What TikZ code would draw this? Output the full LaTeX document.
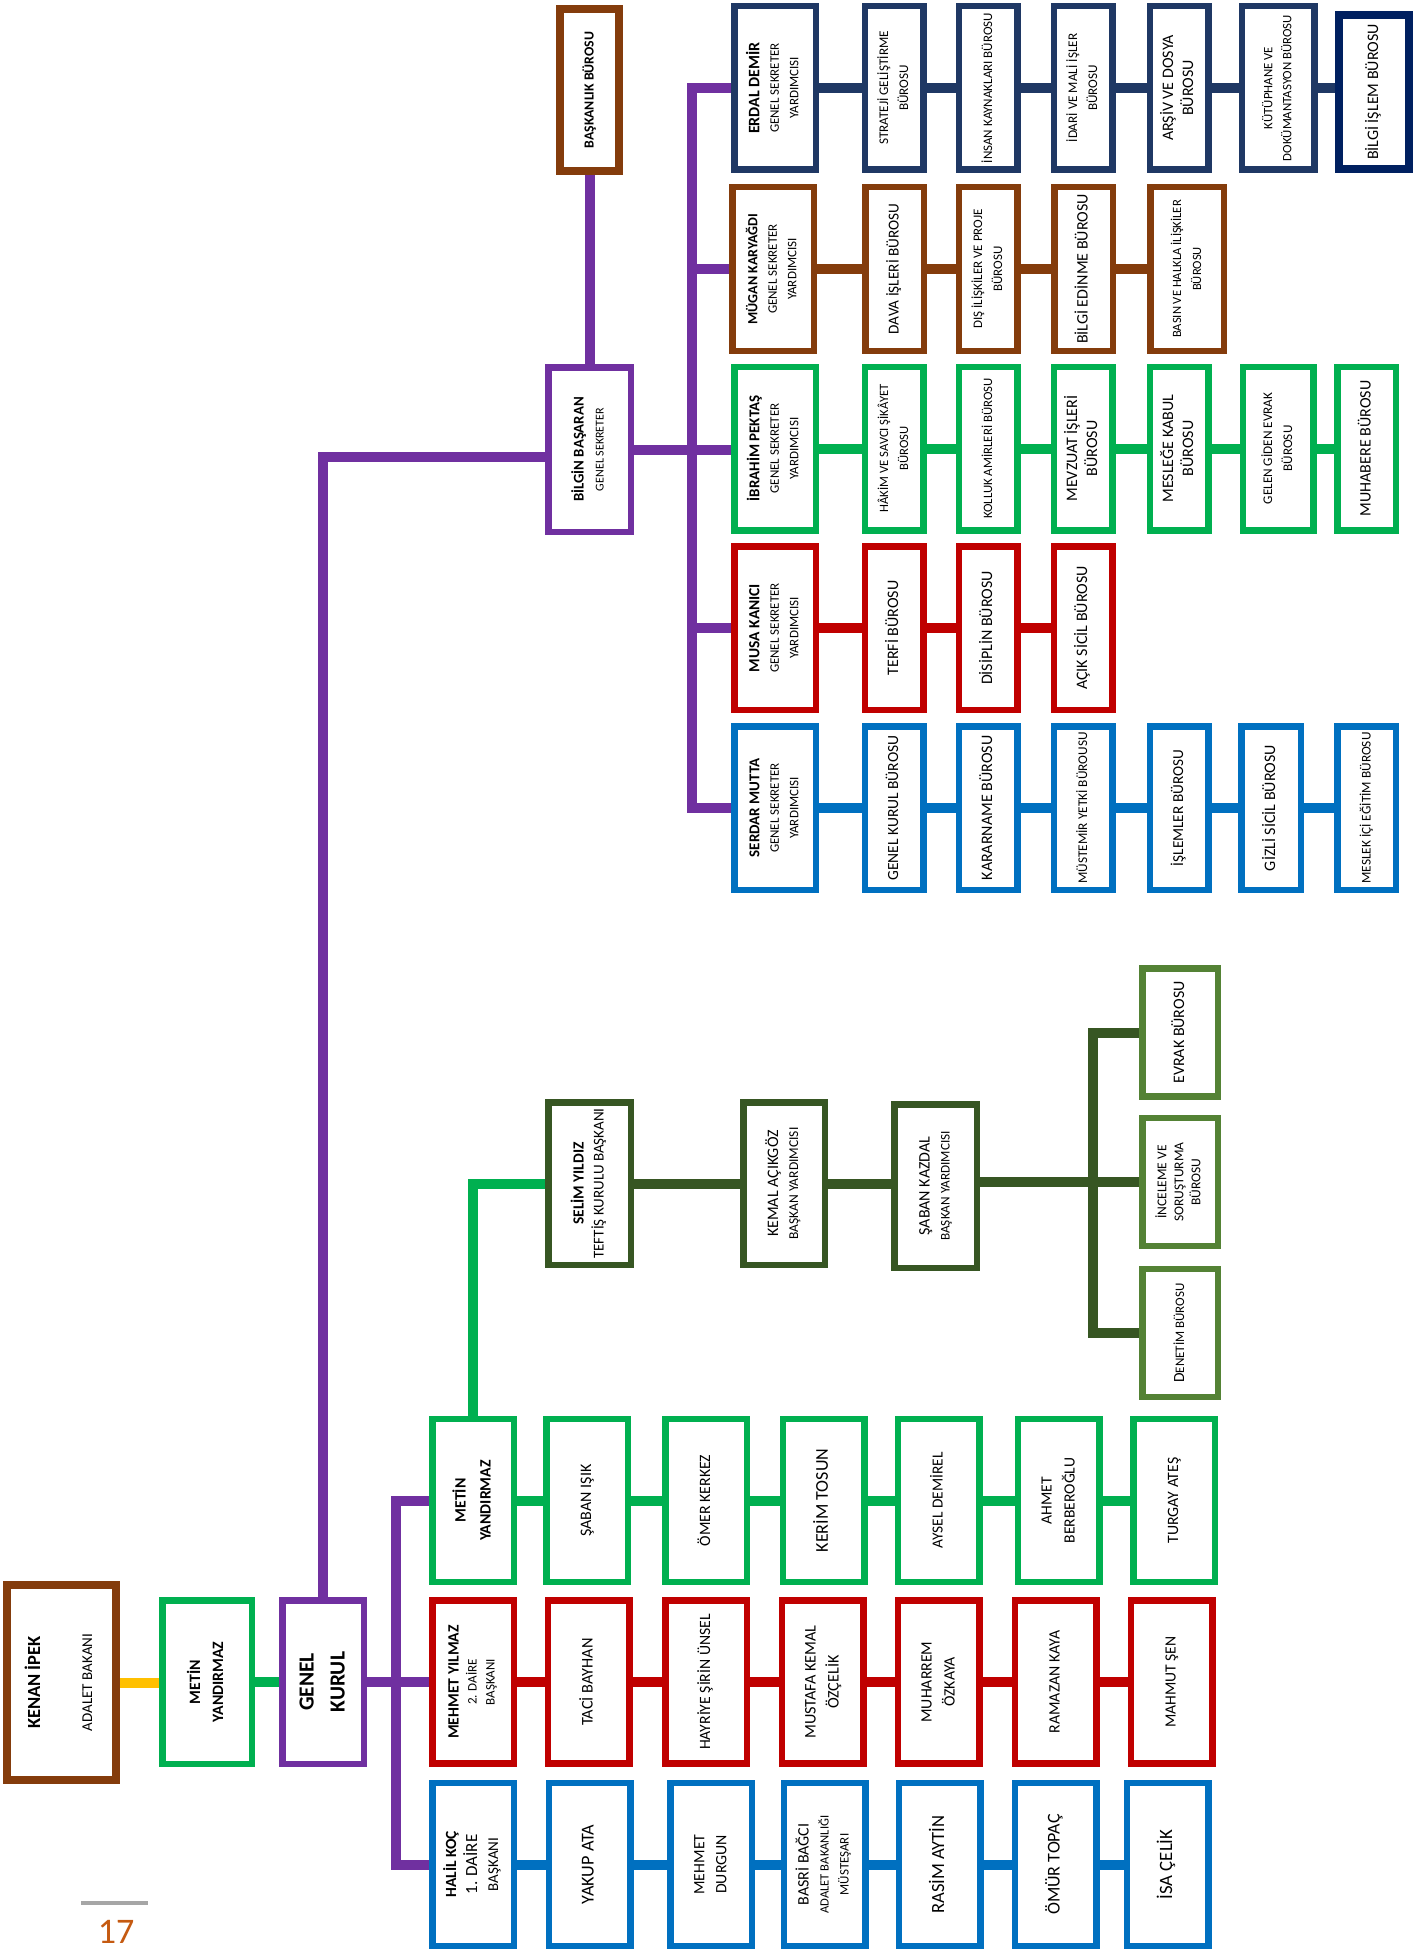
\documentclass[tikz,border=0pt]{standalone}
\usepackage{fontspec}
\setmainfont{Carlito}
\usepackage{graphicx}
\definecolor{cNavy}{HTML}{1F3864}
\definecolor{cNavyD}{HTML}{002060}
\definecolor{cBrown}{HTML}{843C0C}
\definecolor{cGreen}{HTML}{00B050}
\definecolor{cRed}{HTML}{C00000}
\definecolor{cBlue}{HTML}{0070C0}
\definecolor{cPurple}{HTML}{7030A0}
\definecolor{cDkGreen}{HTML}{375623}
\definecolor{cLtGreen}{HTML}{548235}
\definecolor{cYellow}{HTML}{FFC000}
\definecolor{cGray}{HTML}{A6A6A6}
\definecolor{cOrange}{HTML}{C55A11}
\newcommand{\rotlbl}[3][20]{\rotatebox{90}{\fontsize{#2}{#1}\selectfont\begin{tabular}{@{}c@{}}#3\end{tabular}}}
\newcommand{\bn}[2]{{\fontsize{#1}{20}\selectfont\bfseries #2}}
\newcommand{\fsz}[2]{{\fontsize{#1}{20}\selectfont #2}}
\tikzset{
  bx/.style={draw=#1, line width=6.5pt, fill=white, inner sep=0pt, outer sep=3.25pt, rectangle},
  thickbx/.style={draw=#1, line width=8pt, fill=white, inner sep=0pt, outer sep=4pt, rectangle},
  cn/.style={draw=#1, line width=10pt, line join=miter},
  gsy/.style={minimum width=81.5pt, minimum height=163.5pt},
  bur/.style={minimum width=58.5pt, minimum height=163.5pt},
  pb/.style={minimum width=81.5pt, minimum height=163pt},
  tfb/.style={minimum width=75.5pt, minimum height=128pt},
}
\begin{document}
\begin{tikzpicture}[x=1pt,y=-1pt]
\fill[white] (0,0) rectangle (1427,1950);
\useasboundingbox (0,0) rectangle (1427,1950);
\coordinate (bus) at (692,0);
\coordinate (bus2) at (396,0);
\coordinate (tbus) at (1093,0);

% ---------- Genel Sekreterlik ----------
\node[thickbx=cBrown, minimum width=59pt, minimum height=162pt] (baskan) at (589.5,90) {\rotlbl{13.8}{\bfseries BAŞKANLIK BÜROSU}};
\node[bx=cPurple, minimum width=82.5pt, minimum height=164.5pt] (bilgin) at (589.5,449.5) {\rotlbl{12}{\bn{14.8}{BİLGİN BAŞARAN}\\GENEL SEKRETER}};

% row 1 navy
\node[bx=cNavy, gsy] (erdal) at (775,88) {\rotlbl[19.5]{13}{\bn{16}{ERDAL DEMİR}\\GENEL SEKRETER\\YARDIMCISI}};
\node[bx=cNavy, bur] (strateji) at (894,88) {\rotlbl{13.2}{STRATEJİ GELİŞTİRME\\BÜROSU}};
\node[bx=cNavy, bur] (insan) at (988,88) {\rotlbl{13}{İNSAN KAYNAKLARI BÜROSU}};
\node[bx=cNavy, bur] (idari) at (1083,88) {\rotlbl{13.2}{İDARİ VE MALİ İŞLER\\BÜROSU}};
\node[bx=cNavy, bur] (arsiv) at (1179,88) {\rotlbl{16}{ARŞİV VE DOSYA\\BÜROSU}};
\node[bx=cNavy, bur, minimum width=72.5pt] (kutup) at (1278,88) {\rotlbl[19]{12.8}{KÜTÜPHANE VE\\DOKÜMANTASYON BÜROSU}};
\node[thickbx=cNavyD, minimum width=70pt, minimum height=154pt] (bilgiislem) at (1374,92) {\rotlbl{16}{BİLGİ İŞLEM BÜROSU}};

% row 2 brown
\node[bx=cBrown, gsy] (mugan) at (773,269) {\rotlbl[19.5]{13}{\bn{14}{MÜGAN KARYAĞDI}\\GENEL SEKRETER\\YARDIMCISI}};
\node[bx=cBrown, bur] (dava) at (894.5,269) {\rotlbl{15.2}{DAVA İŞLERİ BÜROSU}};
\node[bx=cBrown, bur] (dis) at (988,269) {\rotlbl{13}{DIŞ İLİŞKİLER VE PROJE\\BÜROSU}};
\node[bx=cBrown, bur] (edinme) at (1083.5,269) {\rotlbl{16}{BİLGİ EDİNME BÜROSU}};
\node[bx=cBrown, bur, minimum width=73.5pt] (basin) at (1187,269) {\rotlbl{12.6}{BASIN VE HALKLA İLİŞKİLER\\BÜROSU}};

% row 3 green
\node[bx=cGreen, gsy] (ibrahim) at (775,448.5) {\rotlbl[19.5]{13}{\bn{15}{İBRAHİM PEKTAŞ}\\GENEL SEKRETER\\YARDIMCISI}};
\node[bx=cGreen, bur] (hakim) at (894,448.5) {\rotlbl{12.7}{HÂKİM VE SAVCI ŞİKÂYET\\BÜROSU}};
\node[bx=cGreen, bur] (kolluk) at (988,448.5) {\rotlbl{12.8}{KOLLUK AMİRLERİ BÜROSU}};
\node[bx=cGreen, bur] (mevzuat) at (1083,448.5) {\rotlbl{16}{MEVZUAT İŞLERİ\\BÜROSU}};
\node[bx=cGreen, bur] (meslege) at (1179,448.5) {\rotlbl{16}{MESLEĞE KABUL\\BÜROSU}};
\node[bx=cGreen, bur, minimum width=70.5pt] (gelen) at (1278,448.5) {\rotlbl{13.2}{GELEN GİDEN EVRAK\\BÜROSU}};
\node[bx=cGreen, bur] (muhabere) at (1366.5,448.5) {\rotlbl{16}{MUHABERE BÜROSU}};

% row 4 red
\node[bx=cRed, gsy] (musa) at (775,628) {\rotlbl[19.5]{13}{\bn{15.5}{MUSA KANICI}\\GENEL SEKRETER\\YARDIMCISI}};
\node[bx=cRed, bur] (terfi) at (894,628) {\rotlbl{16}{TERFİ BÜROSU}};
\node[bx=cRed, bur] (disiplin) at (988,628) {\rotlbl{16}{DİSİPLİN BÜROSU}};
\node[bx=cRed, bur] (acik) at (1083,628) {\rotlbl{16}{AÇIK SİCİL BÜROSU}};

% row 5 blue
\node[bx=cBlue, gsy] (serdar) at (775,808) {\rotlbl[19.5]{13}{\bn{15}{SERDAR MUTTA}\\GENEL SEKRETER\\YARDIMCISI}};
\node[bx=cBlue, bur] (gkb) at (894,808) {\rotlbl{15.5}{GENEL KURUL BÜROSU}};
\node[bx=cBlue, bur] (kararname) at (988,808) {\rotlbl{16}{KARARNAME BÜROSU}};
\node[bx=cBlue, bur] (mustemir) at (1083,808) {\rotlbl{13.3}{MÜSTEMİR YETKİ BÜROUSU}};
\node[bx=cBlue, bur] (islemler) at (1179,808) {\rotlbl{15.2}{İŞLEMLER BÜROSU}};
\node[bx=cBlue, bur, minimum width=59.5pt] (gizli) at (1271,808) {\rotlbl{16}{GİZLİ SİCİL BÜROSU}};
\node[bx=cBlue, bur] (meslekici) at (1366.5,808) {\rotlbl{13.3}{MESLEK İÇİ EĞİTİM BÜROSU}};

% ---------- Teftiş Kurulu ----------
\node[bx=cDkGreen, minimum width=82.5pt, minimum height=162.5pt] (selim) at (589.5,1183.5) {\rotlbl{15}{\bn{15.5}{SELİM YILDIZ}\\TEFTİŞ KURULU BAŞKANI}};
\node[bx=cDkGreen, minimum width=81.5pt, minimum height=162.5pt] (kemal) at (784,1183.5) {\rotlbl{13.5}{\fsz{16}{KEMAL AÇIKGÖZ}\\BAŞKAN YARDIMCISI}};
\node[bx=cDkGreen, minimum width=82.5pt, minimum height=163.5pt] (kazdal) at (935.5,1186) {\rotlbl{13.2}{\fsz{16}{ŞABAN KAZDAL}\\BAŞKAN YARDIMCISI}};
\node[bx=cLtGreen, tfb] (evrak) at (1180,1032.5) {\rotlbl{16}{EVRAK BÜROSU}};
\node[bx=cLtGreen, tfb] (inceleme) at (1180,1182) {\rotlbl[17]{13.5}{İNCELEME VE\\SORUŞTURMA\\BÜROSU}};
\node[bx=cLtGreen, tfb] (denetim) at (1180,1333) {\rotlbl{13}{\fsz{15.5}{D}ENETİM BÜROSU}};

% ---------- bottom ----------
\node[thickbx=cBrown, minimum width=109pt, minimum height=195pt] (kenan) at (61.5,1682.5) {\rotlbl{15}{\bn{18.5}{KENAN İPEK}\\[32pt]ADALET BAKANI}};
\node[bx=cGreen, minimum width=89.5pt, minimum height=163.5pt] (metin1) at (207,1682) {\rotlbl[23]{15.8}{\bfseries METİN\\\bfseries YANDIRMAZ}};
\node[bx=cPurple, gsy] (genel) at (323,1682) {\rotlbl[31]{21.5}{\bfseries GENEL\\\bfseries KURUL}};

\node[bx=cGreen, pb] (metin2) at (473,1500.5) {\rotlbl[25]{15.8}{\bfseries METİN\\\bfseries YANDIRMAZ}};
\node[bx=cRed, pb] (mehmet) at (473,1682) {\rotlbl[18]{13}{\bn{15.7}{MEHMET YILMAZ}\\2. DAİRE\\BAŞKANI}};
\node[bx=cBlue, pb] (halil) at (473,1864.5) {\rotlbl[21]{15}{\bn{15.5}{HALİL KOÇ}\\\fsz{17}{1. DAİRE}\\BAŞKANI}};

\node[bx=cGreen, pb] (saban) at (587,1500.5) {\rotlbl{16}{ŞABAN IŞIK}};
\node[bx=cGreen, pb] (omer) at (706,1500.5) {\rotlbl{15.8}{ÖMER KERKEZ}};
\node[bx=cGreen, pb] (kerim) at (823.5,1500.5) {\rotlbl{18}{KERİM TOSUN}};
\node[bx=cGreen, pb] (aysel) at (938.5,1500.5) {\rotlbl{15.4}{AYSEL DEMİREL}};
\node[bx=cGreen, pb] (ahmet) at (1058.5,1500.5) {\rotlbl[23]{15.6}{AHMET\\BERBEROĞLU}};
\node[bx=cGreen, pb] (turgay) at (1174,1500.5) {\rotlbl{15.8}{TURGAY ATEŞ}};

\node[bx=cRed, pb] (taci) at (588.5,1682) {\rotlbl{16.3}{TACİ BAYHAN}};
\node[bx=cRed, pb] (hayriye) at (706,1682) {\rotlbl{15.7}{HAYRİYE ŞİRİN ÜNSEL}};
\node[bx=cRed, pb] (mustafa) at (822.5,1682) {\rotlbl[23]{16.2}{MUSTAFA KEMAL\\ÖZÇELİK}};
\node[bx=cRed, pb] (muharrem) at (938.5,1682) {\rotlbl[23]{15.8}{MUHARREM\\ÖZKAYA}};
\node[bx=cRed, pb] (ramazan) at (1055.5,1682) {\rotlbl{15.8}{RAMAZAN KAYA}};
\node[bx=cRed, pb] (mahmut) at (1171.5,1682) {\rotlbl{15.6}{MAHMUT ŞEN}};

\node[bx=cBlue, pb] (yakup) at (589.5,1864.5) {\rotlbl{18.2}{YAKUP ATA}};
\node[bx=cBlue, pb] (mdurgun) at (711,1864.5) {\rotlbl[22]{15.8}{MEHMET\\DURGUN}};
\node[bx=cBlue, pb] (basri) at (824.5,1864.5) {\rotlbl{12.6}{\fsz{16}{BASRİ BAĞCI}\\ADALET BAKANLIĞI\\\fsz{13}{MÜSTEŞARI}}};
\node[bx=cBlue, pb] (rasim) at (939.5,1864.5) {\rotlbl{18.6}{RASİM AYTİN}};
\node[bx=cBlue, pb] (omur) at (1055.5,1864.5) {\rotlbl{18}{ÖMÜR TOPAÇ}};
\node[bx=cBlue, pb] (isa) at (1167.5,1864.5) {\rotlbl{18.8}{İSA ÇELİK}};

% page number
\coordinate (pgl1) at (81,1903);
\coordinate (pgl2) at (148,1903);
\draw[draw=cGray, line width=4pt] (pgl1) -- (pgl2);
\node[text=cOrange, font=\fontsize{36}{40}\selectfont, inner sep=0pt] (pgnum) at (116,1932) {17};

% ---------- connectors ----------
\draw[cn=cPurple] (genel.north) |- ([yshift=-7pt]bilgin.west);
\draw[cn=cPurple] (baskan.south) -- (bilgin.north);
\draw[cn=cPurple] (bilgin.east) -- (bilgin.east -| ibrahim.west);
\draw[cn=cPurple] (erdal.west) -| (bus |- serdar.west) -- (serdar.west);
\draw[cn=cPurple] (bus |- mugan.west) -- (mugan.west);
\draw[cn=cPurple] (bus |- musa.west) -- (musa.west);

\draw[cn=cNavy] (erdal.east) -- (strateji.west);
\draw[cn=cNavy] (strateji.east) -- (insan.west);
\draw[cn=cNavy] (insan.east) -- (idari.west);
\draw[cn=cNavy] (idari.east) -- (arsiv.west);
\draw[cn=cNavy] (arsiv.east) -- (kutup.west);
\draw[cn=cNavy] (kutup.east) -- (kutup.east -| bilgiislem.west);

\draw[cn=cBrown] (mugan.east) -- (dava.west);
\draw[cn=cBrown] (dava.east) -- (dis.west);
\draw[cn=cBrown] (dis.east) -- (edinme.west);
\draw[cn=cBrown] (edinme.east) -- (basin.west);

\draw[cn=cGreen] (ibrahim.east) -- (hakim.west);
\draw[cn=cGreen] (hakim.east) -- (kolluk.west);
\draw[cn=cGreen] (kolluk.east) -- (mevzuat.west);
\draw[cn=cGreen] (mevzuat.east) -- (meslege.west);
\draw[cn=cGreen] (meslege.east) -- (gelen.west);
\draw[cn=cGreen] (gelen.east) -- (muhabere.west);

\draw[cn=cRed] (musa.east) -- (terfi.west);
\draw[cn=cRed] (terfi.east) -- (disiplin.west);
\draw[cn=cRed] (disiplin.east) -- (acik.west);

\draw[cn=cBlue] (serdar.east) -- (gkb.west);
\draw[cn=cBlue] (gkb.east) -- (kararname.west);
\draw[cn=cBlue] (kararname.east) -- (mustemir.west);
\draw[cn=cBlue] (mustemir.east) -- (islemler.west);
\draw[cn=cBlue] (islemler.east) -- (gizli.west);
\draw[cn=cBlue] (gizli.east) -- (meslekici.west);

\draw[cn=cDkGreen] (selim.east) -- (kemal.west);
\draw[cn=cDkGreen] (kemal.east) -- (kemal.east -| kazdal.west);
\draw[cn=cDkGreen] (kazdal.east |- inceleme.west) -- (inceleme.west);
\draw[cn=cDkGreen] (evrak.west) -| (tbus |- denetim.west) -- (denetim.west);

\draw[cn=cYellow] (kenan.east) -- (kenan.east -| metin1.west);
\draw[cn=cGreen] (metin1.east) -- (genel.west);
\draw[cn=cPurple] (genel.east) -- (mehmet.west);
\draw[cn=cPurple] (metin2.west) -| (bus2 |- halil.west) -- (halil.west);
\draw[cn=cGreen] (metin2.north) |- (selim.west);

\draw[cn=cGreen] (metin2.east) -- (saban.west);
\draw[cn=cGreen] (saban.east) -- (omer.west);
\draw[cn=cGreen] (omer.east) -- (kerim.west);
\draw[cn=cGreen] (kerim.east) -- (aysel.west);
\draw[cn=cGreen] (aysel.east) -- (ahmet.west);
\draw[cn=cGreen] (ahmet.east) -- (turgay.west);

\draw[cn=cRed] (mehmet.east) -- (taci.west);
\draw[cn=cRed] (taci.east) -- (hayriye.west);
\draw[cn=cRed] (hayriye.east) -- (mustafa.west);
\draw[cn=cRed] (mustafa.east) -- (muharrem.west);
\draw[cn=cRed] (muharrem.east) -- (ramazan.west);
\draw[cn=cRed] (ramazan.east) -- (mahmut.west);

\draw[cn=cBlue] (halil.east) -- (yakup.west);
\draw[cn=cBlue] (yakup.east) -- (mdurgun.west);
\draw[cn=cBlue] (mdurgun.east) -- (basri.west);
\draw[cn=cBlue] (basri.east) -- (rasim.west);
\draw[cn=cBlue] (rasim.east) -- (omur.west);
\draw[cn=cBlue] (omur.east) -- (isa.west);
\end{tikzpicture}
\end{document}
